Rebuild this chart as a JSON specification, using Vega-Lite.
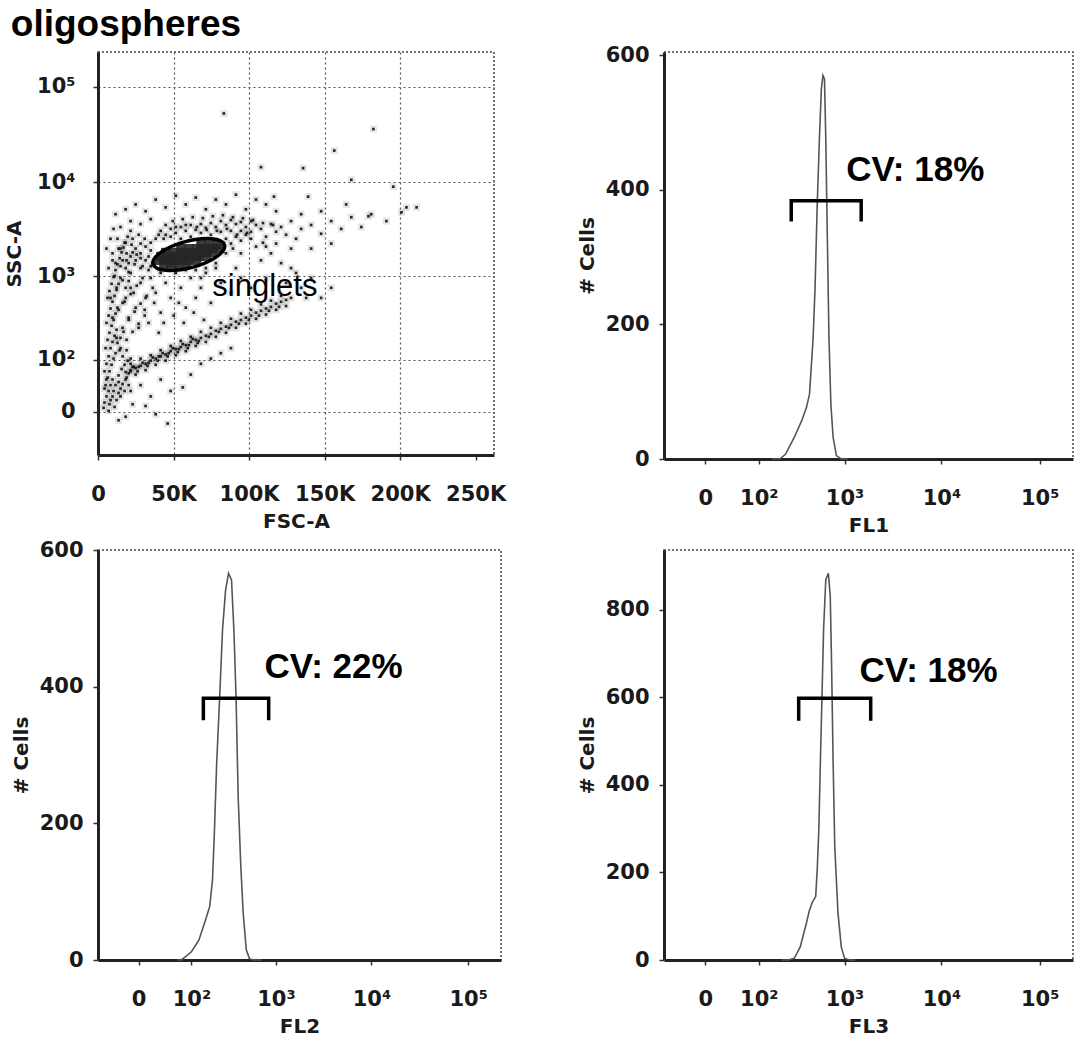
{
 "$schema": "https://vega.github.io/schema/vega-lite/v6.json",
 "background": "white",
 "padding": {"left": 3, "top": 5, "right": 2, "bottom": 2},
 "title": {"text": "oligospheres", "anchor": "start", "font": "Liberation Sans", "fontSize": 37, "fontWeight": "bold", "color": "#000", "offset": 0, "dx": 7},
 "config": {
  "view": {"stroke": "#444", "strokeDash": [2, 2], "strokeWidth": 1.5},
  "axis": {"labelFont": "DejaVu Sans", "labelFontWeight": "bold", "labelFontSize": 21, "labelColor": "#1a1a1a", "titleFont": "DejaVu Sans", "titleFontWeight": "bold", "titleFontSize": 20, "titleColor": "#1a1a1a", "domainColor": "#222", "domainWidth": 3, "tickColor": "#333", "tickSize": 5, "tickWidth": 1.5, "grid": false, "labelOverlap": false, "labelFlush": false},
  "axisX": {"labelPadding": 23, "titlePadding": 7},
  "axisY": {"labelPadding": 10, "titlePadding": 8}
 },
 "datasets": {
  "scatter": [
   {"f":4300,"s":10},{"f":5600,"s":18},{"f":7000,"s":26},{"f":8300,"s":36},{"f":9600,"s":47},{"f":5000,"s":36},{"f":6300,"s":51},{"f":7600,"s":66},{"f":9000,"s":84},{"f":10300,"s":104},{"f":11600,"s":124},{"f":4300,"s":66},{"f":5600,"s":87},{"f":7000,"s":112},{"f":8300,"s":145},{"f":9600,"s":175},{"f":11000,"s":209},{"f":12300,"s":248},{"f":5000,"s":145},{"f":6300,"s":186},{"f":7600,"s":228},{"f":9000,"s":277},{"f":10300,"s":325},{"f":11600,"s":385},{"f":12900,"s":450},{"f":5600,"s":300},{"f":7000,"s":365},{"f":8300,"s":440},{"f":9600,"s":525},{"f":11000,"s":610},{"f":12300,"s":710},{"f":13600,"s":830},{"f":14900,"s":960},{"f":6300,"s":580},{"f":7600,"s":690},{"f":9000,"s":830},{"f":10300,"s":985},{"f":11600,"s":1170},{"f":12900,"s":1350},{"f":14300,"s":1570},{"f":15600,"s":1810},{"f":16900,"s":2040},{"f":18300,"s":2300},{"f":13600,"s":23},{"f":14900,"s":30},{"f":16300,"s":38},{"f":12300,"s":13},{"f":11000,"s":5},{"f":8300,"s":13},{"f":13600,"s":56},{"f":15600,"s":72},{"f":17600,"s":84},{"f":19600,"s":97},{"f":3700,"s":4},{"f":7000,"s":1},{"f":9600,"s":18},
   {"f":14900,"s":18},{"f":17600,"s":26},{"f":20300,"s":36},{"f":18900,"s":51},{"f":21600,"s":66},{"f":16300,"s":112},{"f":18900,"s":136},{"f":21600,"s":104},{"f":12900,"s":170},{"f":14900,"s":197},{"f":16900,"s":234},{"f":14300,"s":136},{"f":11600,"s":36},{"f":10300,"s":26},{"f":5600,"s":47},{"f":4300,"s":30},{"f":7600,"s":8},{"f":23600,"s":78},
   {"f":18300,"s":64},{"f":18300,"s":47},{"f":21600,"s":69},{"f":21600,"s":87},{"f":24900,"s":75},{"f":24900,"s":58},{"f":28200,"s":81},{"f":28200,"s":104},{"f":31500,"s":87},{"f":31500,"s":69},{"f":34900,"s":97},{"f":34900,"s":116},{"f":38200,"s":104},{"f":38200,"s":84},{"f":41500,"s":112},{"f":41500,"s":136},{"f":44800,"s":119},{"f":44800,"s":97},{"f":48100,"s":132},{"f":48100,"s":155},{"f":51500,"s":141},{"f":51500,"s":116},{"f":54800,"s":150},{"f":54800,"s":180},{"f":58100,"s":159},{"f":58100,"s":132},{"f":61400,"s":175},{"f":61400,"s":203},{"f":64700,"s":186},{"f":64700,"s":155},{"f":68100,"s":197},{"f":68100,"s":234},{"f":71400,"s":209},{"f":71400,"s":175},{"f":74700,"s":221},{"f":74700,"s":262},{"f":78000,"s":241},{"f":78000,"s":203},{"f":81300,"s":255},{"f":81300,"s":300},{"f":84700,"s":270},{"f":84700,"s":228},{"f":88000,"s":285},{"f":88000,"s":335},{"f":91300,"s":310},{"f":91300,"s":262},{"f":94600,"s":325},{"f":94600,"s":385},{"f":97900,"s":345},{"f":97900,"s":293},{"f":101300,"s":365},{"f":101300,"s":425},{"f":104600,"s":395},{"f":104600,"s":335},{"f":107900,"s":415},{"f":107900,"s":490},{"f":111200,"s":440},{"f":111200,"s":375},{"f":114500,"s":460},{"f":114500,"s":540},{"f":117900,"s":500},{"f":117900,"s":425},{"f":121200,"s":525},{"f":121200,"s":610},{"f":124500,"s":550},{"f":124500,"s":470},{"f":127800,"s":580},
   {"f":22900,"s":78},{"f":29500,"s":90},{"f":36200,"s":108},{"f":42800,"s":124},{"f":49500,"s":145},{"f":56100,"s":164},{"f":62700,"s":191},{"f":26200,"s":66},{"f":32800,"s":81},{"f":39500,"s":97},{"f":46100,"s":112},{"f":52800,"s":128},{"f":59400,"s":145},{"f":66000,"s":170},
   {"f":13600,"s":42},{"f":20300,"s":61},{"f":26900,"s":78},{"f":33500,"s":90},{"f":40200,"s":112},{"f":46800,"s":124},{"f":53500,"s":141},{"f":60100,"s":159},{"f":66700,"s":180},{"f":73400,"s":203},{"f":80000,"s":234},{"f":86700,"s":262},{"f":93300,"s":293},{"f":99900,"s":325},{"f":106600,"s":365},{"f":113200,"s":415},{"f":119900,"s":460},
   {"f":18300,"s":580},{"f":21600,"s":750},{"f":24900,"s":450},{"f":28200,"s":850},{"f":31500,"s":580},{"f":34900,"s":960},{"f":38200,"s":660},{"f":41500,"s":395},{"f":44800,"s":850},{"f":48100,"s":580},{"f":51500,"s":1090},{"f":54800,"s":750},{"f":58100,"s":450},{"f":61400,"s":960},{"f":64700,"s":580},{"f":68100,"s":750},{"f":71400,"s":1090},{"f":74700,"s":510},{"f":81300,"s":850},{"f":88000,"s":660},{"f":94600,"s":960},{"f":101300,"s":750},{"f":21600,"s":1090},{"f":28200,"s":1230},{"f":34900,"s":1290},{"f":41500,"s":1170},{"f":48100,"s":1290},{"f":68100,"s":960},{"f":78000,"s":1230},{"f":91300,"s":1230},{"f":20300,"s":345},{"f":26900,"s":262},{"f":33500,"s":300},{"f":40200,"s":228},{"f":18300,"s":750},{"f":16300,"s":510},{"f":20300,"s":890},{"f":23600,"s":660},{"f":30900,"s":425},{"f":37200,"s":510},{"f":43500,"s":300},{"f":50100,"s":365},{"f":56800,"s":300},{"f":63400,"s":395},{"f":70100,"s":325},{"f":53500,"s":510},
   {"f":9600,"s":345},{"f":13600,"s":425},{"f":17600,"s":525},{"f":21600,"s":640},{"f":25600,"s":790},{"f":29500,"s":960},{"f":33500,"s":1170},{"f":37500,"s":1350},{"f":12300,"s":197},{"f":16300,"s":262},{"f":20300,"s":325},{"f":24200,"s":405},{"f":28200,"s":500},{"f":32200,"s":610},{"f":36200,"s":750},{"f":14900,"s":145},{"f":18900,"s":186},{"f":22900,"s":234},{"f":26900,"s":293},{"f":30900,"s":365},{"f":8300,"s":580},{"f":12300,"s":750},{"f":16300,"s":910},{"f":20300,"s":1110},{"f":24200,"s":1350},{"f":28200,"s":1570},{"f":11000,"s":1010},{"f":14900,"s":1290},{"f":18900,"s":1490},{"f":22900,"s":1810},{"f":9600,"s":1490},{"f":13600,"s":1990},{"f":17600,"s":2300},{"f":21600,"s":3070},
   {"f":21600,"s":1640},{"f":24900,"s":1490},{"f":28200,"s":1770},{"f":31500,"s":1490},{"f":34900,"s":1900},{"f":31500,"s":2090},{"f":28200,"s":2250},{"f":24900,"s":1990},{"f":20300,"s":1390},{"f":18300,"s":1230},{"f":22900,"s":2530},{"f":26900,"s":2790},{"f":30900,"s":2530},{"f":34900,"s":2300},{"f":38200,"s":2530},{"f":33500,"s":1640},{"f":36200,"s":1350},{"f":29500,"s":1290},{"f":25600,"s":1720},{"f":22200,"s":2190},{"f":18900,"s":1770},{"f":16300,"s":1490},{"f":14900,"s":1990},{"f":12900,"s":2530},{"f":19600,"s":2660},
   {"f":41500,"s":3070},{"f":44800,"s":2790},{"f":48100,"s":3220},{"f":51500,"s":2920},{"f":54800,"s":3370},{"f":58100,"s":3070},{"f":61400,"s":3540},{"f":64700,"s":3140},{"f":68100,"s":3620},{"f":71400,"s":3300},{"f":74700,"s":3710},{"f":78000,"s":3370},{"f":81300,"s":3890},{"f":84700,"s":3540},{"f":88000,"s":3990},{"f":91300,"s":3620},{"f":94600,"s":3800},{"f":97900,"s":3370},{"f":101300,"s":3890},{"f":104600,"s":3540},{"f":48100,"s":2660},{"f":54800,"s":2530},{"f":61400,"s":2660},{"f":68100,"s":2920},{"f":74700,"s":2790},{"f":81300,"s":3000},{"f":88000,"s":3070},{"f":94600,"s":3070},{"f":101300,"s":3000},{"f":43500,"s":2530},{"f":51500,"s":3370},{"f":58100,"s":3540},{"f":65400,"s":3370},{"f":72000,"s":3140},{"f":78700,"s":3070},{"f":85300,"s":3220},{"f":92000,"s":2790},{"f":98600,"s":2920},{"f":40200,"s":2790},
   {"f":44800,"s":3540},{"f":49500,"s":3890},{"f":56100,"s":4080},{"f":62700,"s":4280},{"f":69400,"s":4180},{"f":76000,"s":4380},{"f":82700,"s":4490},{"f":89300,"s":4280},{"f":95900,"s":4180},{"f":102600,"s":3990},{"f":109200,"s":3710},{"f":115900,"s":3540},
   {"f":84700,"s":2530},{"f":88000,"s":2250},{"f":91300,"s":2660},{"f":94600,"s":2415},{"f":97900,"s":2790},{"f":101300,"s":2530},{"f":84700,"s":1770},{"f":78000,"s":1390},{"f":71400,"s":1230},{"f":64700,"s":1170},{"f":58100,"s":1170},{"f":51500,"s":1230},{"f":41500,"s":1090},{"f":89300,"s":1990},{"f":94600,"s":1770},{"f":104600,"s":2090},{"f":109200,"s":2300},
   {"f":107900,"s":3220},{"f":111200,"s":2660},{"f":114500,"s":3620},{"f":117900,"s":3000},{"f":121200,"s":3370},{"f":124500,"s":2790},{"f":127800,"s":3890},{"f":134500,"s":3220},{"f":141100,"s":3540},{"f":147700,"s":2860},{"f":154400,"s":3890},{"f":161000,"s":3220},{"f":167700,"s":4280},{"f":174300,"s":3370},{"f":180900,"s":4600},{"f":190900,"s":3890},{"f":200900,"s":4820},{"f":210900,"s":5430},{"f":134500,"s":4600},{"f":147700,"s":4940},{"f":164300,"s":5830},{"f":154400,"s":2250},{"f":141100,"s":1990},{"f":127800,"s":1990},{"f":114500,"s":1770},{"f":121200,"s":1390},{"f":107900,"s":1490},{"f":117900,"s":2250},{"f":131100,"s":2530},{"f":111200,"s":2090},
   {"f":11600,"s":4600},{"f":18300,"s":5180},{"f":24900,"s":5830},{"f":31500,"s":4940},{"f":38200,"s":6560},{"f":44800,"s":5430},{"f":51500,"s":7210},{"f":58100,"s":5830},{"f":64700,"s":6880},{"f":71400,"s":5180},{"f":78000,"s":6560},{"f":84700,"s":5830},{"f":91300,"s":7380},{"f":97900,"s":5180},{"f":104600,"s":6560},{"f":111200,"s":5830},{"f":117900,"s":4940},{"f":14900,"s":3370},{"f":21600,"s":3890},{"f":28200,"s":3620},{"f":34900,"s":4080},{"f":8300,"s":2530},{"f":9600,"s":1770},{"f":11600,"s":1390},{"f":7000,"s":1230},{"f":5600,"s":1990},{"f":10300,"s":3220},
   {"f":111200,"s":960},{"f":124500,"s":850},{"f":131100,"s":1090},{"f":134500,"s":750},{"f":141100,"s":960},{"f":137800,"s":580},{"f":147700,"s":580},{"f":154400,"s":750},{"f":127800,"s":1230},
   {"f":21600,"s":26},{"f":28200,"s":36},{"f":34900,"s":18},{"f":41500,"s":47},{"f":48100,"s":26},{"f":56100,"s":32},{"f":31500,"s":6},{"f":22900,"s":8},{"f":46100,"s":-13},{"f":38200,"s":-2.4},{"f":18300,"s":-5},{"f":13600,"s":-9},{"f":61400,"s":58},{"f":68100,"s":87},{"f":74700,"s":104},{"f":81300,"s":124},{"f":88000,"s":145},
   {"f":83300,"s":52350},{"f":182300,"s":35930},{"f":156400,"s":21420},{"f":107900,"s":14340},{"f":135800,"s":14010},{"f":116500,"s":7040},{"f":139100,"s":7040},{"f":167700,"s":10560},{"f":195500,"s":8950},{"f":179000,"s":4380},{"f":204200,"s":5430}
  ],
  "core": [
   {"f":68100,"s":2190},{"f":73400,"s":2190},{"f":78700,"s":2190},
   {"f":54800,"s":1990},{"f":60100,"s":1990},{"f":65400,"s":1990},{"f":70700,"s":1990},{"f":76000,"s":1990},{"f":80700,"s":1990},
   {"f":44800,"s":1810},{"f":49500,"s":1810},{"f":54800,"s":1810},{"f":60100,"s":1810},{"f":65400,"s":1810},{"f":70700,"s":1810},{"f":76000,"s":1810},
   {"f":41500,"s":1640},{"f":46100,"s":1640},{"f":50800,"s":1640},{"f":56100,"s":1640},{"f":61400,"s":1640},{"f":66700,"s":1640},{"f":72000,"s":1640},
   {"f":40200,"s":1490},{"f":44800,"s":1490},{"f":49500,"s":1490},{"f":54800,"s":1490},{"f":60100,"s":1490},{"f":65400,"s":1490},
   {"f":43500,"s":1350},{"f":48100,"s":1350},{"f":53500,"s":1350},{"f":58800,"s":1350}
  ],
  "gate": [{"f": 60100, "s": 1720}],
  "gatelabel": [{"f": 75700, "s": 610, "t": "singlets"}],
  "fl1": [
   {"x":150,"c":0},{"x":189,"c":0},{"x":221,"c":7},{"x":281,"c":32},{"x":342,"c":57},{"x":386,"c":76},{"x":418,"c":96},{"x":435,"c":131},{"x":459,"c":180},{"x":482,"c":254},{"x":509,"c":377},{"x":538,"c":476},{"x":565,"c":550},{"x":588,"c":570},{"x":611,"c":565},{"x":631,"c":476},{"x":656,"c":328},{"x":683,"c":180},{"x":716,"c":81},{"x":757,"c":32},{"x":820,"c":5},{"x":924,"c":0},{"x":1100,"c":0}
  ],
  "fl2": [
   {"x":60,"c":0},{"x":70,"c":0},{"x":82,"c":5},{"x":100,"c":12},{"x":127,"c":29},{"x":156,"c":59},{"x":176,"c":78},{"x":191,"c":117},{"x":202,"c":190},{"x":215,"c":288},{"x":234,"c":385},{"x":253,"c":483},{"x":275,"c":541},{"x":298,"c":566},{"x":323,"c":556},{"x":344,"c":483},{"x":364,"c":385},{"x":385,"c":239},{"x":411,"c":141},{"x":439,"c":68},{"x":475,"c":15},{"x":515,"c":2},{"x":568,"c":0},{"x":700,"c":0}
  ],
  "fl3": [
   {"x":200,"c":0},{"x":239,"c":0},{"x":281,"c":4},{"x":329,"c":30},{"x":386,"c":84},{"x":418,"c":114},{"x":452,"c":133},{"x":490,"c":145},{"x":509,"c":206},{"x":530,"c":297},{"x":551,"c":450},{"x":574,"c":602},{"x":597,"c":754},{"x":631,"c":869},{"x":673,"c":884},{"x":705,"c":831},{"x":728,"c":678},{"x":757,"c":450},{"x":788,"c":259},{"x":853,"c":107},{"x":924,"c":30},{"x":1000,"c":4},{"x":1127,"c":0},{"x":1300,"c":0}
  ],
  "br1": [{"x":259,"c":353,"o":1},{"x":259,"c":384,"o":2},{"x":1496,"c":384,"o":3},{"x":1496,"c":353,"o":4}],
  "br2": [{"x":146,"c":351,"o":1},{"x":146,"c":383,"o":2},{"x":837,"c":383,"o":3},{"x":837,"c":351,"o":4}],
  "br3": [{"x":316,"c":547,"o":1},{"x":316,"c":598,"o":2},{"x":1879,"c":598,"o":3},{"x":1879,"c":547,"o":4}],
  "cv1": [{"x":1040,"c":413,"t":"CV: 18%"}],
  "cv2": [{"x":753,"c":412,"t":"CV: 22%"}],
  "cv3": [{"x":1438,"c":636,"t":"CV: 18%"}]
 },
 "columns": 2,
 "spacing": {"row": 2, "column": 69},
 "concat": [
  {
   "width": 396, "height": 403,
   "layer": [
    {"data": {"name": "scatter"}, "mark": {"type": "square", "size": 50, "color": "#000", "opacity": 0.1},
     "encoding": {
      "x": {"field": "f", "type": "quantitative", "title": "FSC-A", "scale": {"domain": [0, 262144], "nice": false, "zero": false},
            "axis": {"values": [0, 50000, 100000, 150000, 200000, 250000], "labelExpr": "datum.value == 0 ? '0' : format(datum.value / 1000, 'd') + 'K'", "grid": true, "gridDash": [2, 3], "gridColor": "#555", "gridWidth": 1.2, "gridOpacity": {"condition": {"test": "datum.value > 240000", "value": 0}, "value": 1}}},
      "y": {"field": "s", "type": "quantitative", "title": "SSC-A", "scale": {"type": "symlog", "constant": 40, "domain": [-73, 229600], "nice": false, "zero": false},
            "axis": {"values": [0, 100, 1000, 10000, 100000], "labelExpr": "datum.value == 100 ? '10²' : datum.value == 1000 ? '10³' : datum.value == 10000 ? '10⁴' : datum.value == 100000 ? '10⁵' : '0'", "grid": true, "gridDash": [2, 3], "gridColor": "#555", "gridWidth": 1.2, "labelPadding": 18, "titlePadding": 12}}
     }},
    {"data": {"name": "scatter"}, "mark": {"type": "square", "size": 7, "color": "#111", "opacity": 0.9},
     "encoding": {"x": {"field": "f", "type": "quantitative", "title": "FSC-A"}, "y": {"field": "s", "type": "quantitative", "title": "SSC-A"}}},
    {"data": {"name": "core"}, "mark": {"type": "square", "size": 85, "color": "#262626", "opacity": 0.9},
     "encoding": {"x": {"field": "f", "type": "quantitative", "title": "FSC-A"}, "y": {"field": "s", "type": "quantitative", "title": "SSC-A"}}},
    {"data": {"name": "gate"}, "mark": {"type": "point", "shape": "M -1 0 A 1 0.36 0 1 0 1 0 A 1 0.36 0 1 0 -1 0 Z", "size": 5476, "angle": -15, "filled": false, "strokeWidth": 3.5, "color": "#000", "opacity": 1},
     "encoding": {"x": {"field": "f", "type": "quantitative", "title": "FSC-A"}, "y": {"field": "s", "type": "quantitative", "title": "SSC-A"}}},
    {"data": {"name": "gatelabel"}, "mark": {"type": "text", "align": "left", "baseline": "alphabetic", "font": "Liberation Sans", "fontSize": 31, "color": "#000"},
     "encoding": {"x": {"field": "f", "type": "quantitative", "title": "FSC-A"}, "y": {"field": "s", "type": "quantitative", "title": "SSC-A"}, "text": {"field": "t"}}}
   ]
  },
  {
   "width": 409, "height": 407,
   "layer": [
    {"data": {"name": "fl1"}, "mark": {"type": "line", "color": "#555", "strokeWidth": 1.6},
     "encoding": {
      "x": {"field": "x", "type": "quantitative", "title": "FL1", "scale": {"type": "symlog", "constant": 40, "domain": [-65, 218000], "nice": false, "zero": false},
            "axis": {"values": [0, 100, 1000, 10000, 100000], "labelExpr": "datum.value == 100 ? '10²' : datum.value == 1000 ? '10³' : datum.value == 10000 ? '10⁴' : datum.value == 100000 ? '10⁵' : '0'"}},
      "y": {"field": "c", "type": "quantitative", "title": "# Cells", "scale": {"domain": [0, 605], "nice": false}, "axis": {"values": [0, 200, 400, 600]}}
     }},
    {"data": {"name": "br1"}, "mark": {"type": "line", "color": "#000", "strokeWidth": 3.5},
     "encoding": {"x": {"field": "x", "type": "quantitative", "title": "FL1"}, "y": {"field": "c", "type": "quantitative", "title": "# Cells"}, "order": {"field": "o"}}},
    {"data": {"name": "cv1"}, "mark": {"type": "text", "align": "left", "baseline": "alphabetic", "font": "Liberation Sans", "fontWeight": "bold", "fontSize": 35, "color": "#000"},
     "encoding": {"x": {"field": "x", "type": "quantitative", "title": "FL1"}, "y": {"field": "c", "type": "quantitative", "title": "# Cells"}, "text": {"field": "t"}}}
   ]
  },
  {
   "width": 403, "height": 410,
   "layer": [
    {"data": {"name": "fl2"}, "mark": {"type": "line", "color": "#555", "strokeWidth": 1.6},
     "encoding": {
      "x": {"field": "x", "type": "quantitative", "title": "FL2", "scale": {"type": "symlog", "constant": 40, "domain": [-65, 218000], "nice": false, "zero": false},
            "axis": {"values": [0, 100, 1000, 10000, 100000], "labelExpr": "datum.value == 100 ? '10²' : datum.value == 1000 ? '10³' : datum.value == 10000 ? '10⁴' : datum.value == 100000 ? '10⁵' : '0'"}},
      "y": {"field": "c", "type": "quantitative", "title": "# Cells", "scale": {"domain": [0, 600], "nice": false}, "axis": {"values": [0, 200, 400, 600]}}
     }},
    {"data": {"name": "br2"}, "mark": {"type": "line", "color": "#000", "strokeWidth": 3.5},
     "encoding": {"x": {"field": "x", "type": "quantitative", "title": "FL2"}, "y": {"field": "c", "type": "quantitative", "title": "# Cells"}, "order": {"field": "o"}}},
    {"data": {"name": "cv2"}, "mark": {"type": "text", "align": "left", "baseline": "alphabetic", "font": "Liberation Sans", "fontWeight": "bold", "fontSize": 35, "color": "#000"},
     "encoding": {"x": {"field": "x", "type": "quantitative", "title": "FL2"}, "y": {"field": "c", "type": "quantitative", "title": "# Cells"}, "text": {"field": "t"}}}
   ]
  },
  {
   "width": 409, "height": 410,
   "layer": [
    {"data": {"name": "fl3"}, "mark": {"type": "line", "color": "#555", "strokeWidth": 1.6},
     "encoding": {
      "x": {"field": "x", "type": "quantitative", "title": "FL3", "scale": {"type": "symlog", "constant": 40, "domain": [-65, 218000], "nice": false, "zero": false},
            "axis": {"values": [0, 100, 1000, 10000, 100000], "labelExpr": "datum.value == 100 ? '10²' : datum.value == 1000 ? '10³' : datum.value == 10000 ? '10⁴' : datum.value == 100000 ? '10⁵' : '0'"}},
      "y": {"field": "c", "type": "quantitative", "title": "# Cells", "scale": {"domain": [0, 937], "nice": false}, "axis": {"values": [0, 200, 400, 600, 800]}}
     }},
    {"data": {"name": "br3"}, "mark": {"type": "line", "color": "#000", "strokeWidth": 3.5},
     "encoding": {"x": {"field": "x", "type": "quantitative", "title": "FL3"}, "y": {"field": "c", "type": "quantitative", "title": "# Cells"}, "order": {"field": "o"}}},
    {"data": {"name": "cv3"}, "mark": {"type": "text", "align": "left", "baseline": "alphabetic", "font": "Liberation Sans", "fontWeight": "bold", "fontSize": 35, "color": "#000"},
     "encoding": {"x": {"field": "x", "type": "quantitative", "title": "FL3"}, "y": {"field": "c", "type": "quantitative", "title": "# Cells"}, "text": {"field": "t"}}}
   ]
  }
 ]
}
